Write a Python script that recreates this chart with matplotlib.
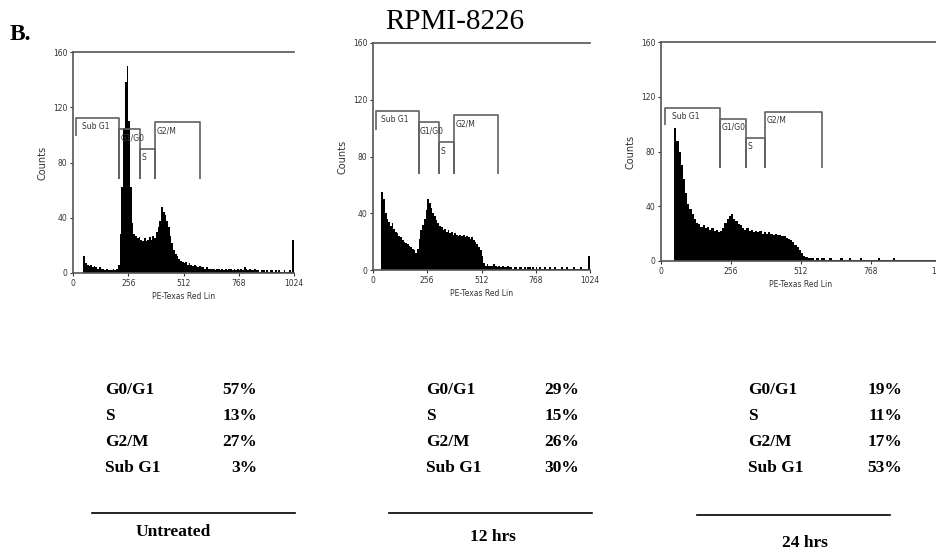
import matplotlib
matplotlib.use("Agg")
import matplotlib.pyplot as plt
from matplotlib.lines import Line2D

W, H = 936, 554

# channel bins of the PE-Texas Red signal (8 channels per bin, 0..1024)
bin_edges = list(range(0, 1032, 8))

counts_untreated = [
    0, 0, 0, 0, 0, 0, 12, 7, 6, 5, 6, 4, 5, 4, 3, 4,
    3, 3, 2, 3, 2, 2, 2, 3, 2, 3, 6, 28, 62, 105, 138, 150,
    110, 62, 36, 28, 27, 25, 26, 24, 23, 25, 23, 24, 26, 24, 27, 25,
    30, 33, 38, 48, 44, 42, 38, 33, 27, 22, 17, 14, 12, 10, 9, 8,
    7, 8, 6, 7, 6, 5, 6, 5, 4, 5, 4, 4, 3, 4, 3, 3,
    3, 3, 2, 3, 3, 2, 3, 2, 3, 2, 3, 3, 2, 3, 2, 3,
    2, 3, 2, 4, 3, 2, 3, 2, 2, 3, 2, 2, 1, 2, 2, 1,
    2, 1, 2, 2, 1, 2, 1, 2, 1, 1, 2, 1, 1, 2, 1, 24,
]
counts_12h = [
    0, 0, 0, 0, 0, 55, 50, 40, 36, 34, 31, 33, 29, 27, 26, 24,
    23, 21, 20, 19, 18, 17, 16, 15, 14, 12, 15, 22, 28, 32, 36, 42,
    50, 47, 44, 40, 38, 35, 33, 31, 30, 28, 29, 27, 28, 26, 27, 25,
    26, 25, 24, 25, 24, 25, 23, 24, 23, 22, 23, 21, 20, 18, 16, 14,
    10, 5, 3, 4, 3, 3, 3, 4, 3, 2, 3, 2, 3, 2, 2, 3,
    2, 2, 1, 2, 2, 1, 2, 2, 1, 2, 1, 2, 2, 1, 2, 1,
    2, 1, 2, 1, 1, 2, 1, 1, 2, 1, 1, 2, 1, 1, 1, 2,
    1, 1, 2, 1, 1, 1, 2, 1, 1, 1, 2, 1, 1, 1, 1, 10,
]
counts_24h = [
    0, 0, 0, 0, 0, 0, 97, 88, 80, 70, 60, 50, 42, 38, 34, 31,
    28, 27, 25, 26, 24, 25, 23, 24, 22, 23, 21, 22, 24, 28, 31, 33,
    34, 31, 29, 27, 26, 24, 23, 24, 22, 23, 21, 22, 21, 22, 20, 21,
    20, 21, 20, 19, 20, 19, 19, 18, 18, 17, 16, 15, 14, 12, 10, 8,
    6, 4, 3, 2, 2, 2, 1, 2, 1, 2, 2, 1, 1, 2, 1, 1,
    1, 1, 2, 1, 1, 1, 2, 1, 1, 1, 1, 2, 1, 1, 1, 1,
    1, 1, 1, 2, 1, 1, 1, 1, 1, 1, 2, 1, 1, 1, 1, 1,
    1, 1, 1, 1, 1, 1, 1, 1, 1, 1, 1, 1, 1, 1, 1, 1,
]

# analysis gates: name, start channel, end channel, bracket height, left drop
gate_names = ["Sub G1", "G1/G0", "S", "G2/M"]
gate_start = [15, 215, 312, 382]
gate_end = [215, 312, 382, 590]
gate_height = [112, 104, 90, 109]
gate_left_low = [99, 68, 68, 68]
gate_right_low = 68

x_ticks = [0, 256, 512, 768, 1024]
y_ticks = [0, 40, 80, 120, 160]

phases = ["G0/G1", "S", "G2/M", "Sub G1"]
pct_untreated = [57, 13, 27, 3]
pct_12h = [29, 15, 26, 30]
pct_24h = [19, 11, 17, 53]
conditions = ["Untreated", "12 hrs", "24 hrs"]


def fx(x):
    return x / W


def fy(y):
    return 1 - y / H


def box(left, top, right, bottom):
    return [fx(left), fy(bottom), (right - left) / W, (bottom - top) / H]


def draw_histogram(ax, counts):
    ax.stairs(counts, bin_edges, fill=True, color="black", linewidth=0)
    ax.set_xlim(0, 1024)
    ax.set_ylim(0, 160)
    ax.set_xticks(x_ticks)
    ax.set_yticks(y_ticks)
    ax.tick_params(direction="out", length=2.5, width=0.8, labelsize=5.5,
                   pad=1.5, colors="#333333")
    for side in ("left", "bottom", "top"):
        ax.spines[side].set_color("#555555")
        ax.spines[side].set_linewidth(1.2)
    ax.spines["right"].set_visible(False)
    ax.set_ylabel("Counts", fontsize=7, labelpad=4, color="#333333")
    ax.set_xlabel("PE-Texas Red Lin", fontsize=5.5, labelpad=3, color="#333333")

    gate_kw = dict(color="#606060", linewidth=1.2, solid_capstyle="butt")
    for name, x0, x1, h, low in zip(gate_names, gate_start, gate_end,
                                    gate_height, gate_left_low):
        ax.plot([x0, x0, x1, x1], [low, h, h, gate_right_low], **gate_kw)
        dx = 25 if name == "Sub G1" else 6
        ax.text(x0 + dx, h - 3, name, fontsize=5.5, va="top", ha="left",
                color="#333333")


fig = plt.figure(figsize=(W / 100, H / 100), dpi=100)

panels = [
    (box(73, 52, 294, 273), counts_untreated),
    (box(373, 43, 590, 270), counts_12h),
    (box(661, 42, 941, 261), counts_24h),
]
for rect, counts in panels:
    ax = fig.add_axes(rect)
    draw_histogram(ax, counts)

serif = ["Liberation Serif", "DejaVu Serif"]
fig.text(fx(10), fy(35), "B.", fontsize=17, fontweight="bold",
         family=serif, ha="left", va="center")
fig.text(fx(455), fy(22), "RPMI-8226", fontsize=21, family=serif,
         ha="center", va="center")

# percentage tables under each histogram
tables = [
    (pct_untreated, 105, 257, (92, 295, 513), (173, 532)),
    (pct_12h, 426, 579, (389, 592, 513), (493, 537)),
    (pct_24h, 748, 902, (697, 890, 515), (805, 543)),
]
row_y = [390, 416, 442, 468]
for (pcts, lx, rx, rule, cap), cond in zip(tables, conditions):
    for phase, pct, y in zip(phases, pcts, row_y):
        fig.text(fx(lx), fy(y), phase, fontsize=12.5, fontweight="bold",
                 family=serif, ha="left", va="center")
        fig.text(fx(rx), fy(y), f"{pct}%", fontsize=12.5, fontweight="bold",
                 family=serif, ha="right", va="center")
    x0, x1, y = rule
    fig.add_artist(Line2D([fx(x0), fx(x1)], [fy(y), fy(y)],
                          transform=fig.transFigure, color="black",
                          linewidth=1.2))
    fig.text(fx(cap[0]), fy(cap[1]), cond, fontsize=12.5, fontweight="bold",
             family=serif, ha="center", va="center")

fig.savefig("out.png", dpi=100)
